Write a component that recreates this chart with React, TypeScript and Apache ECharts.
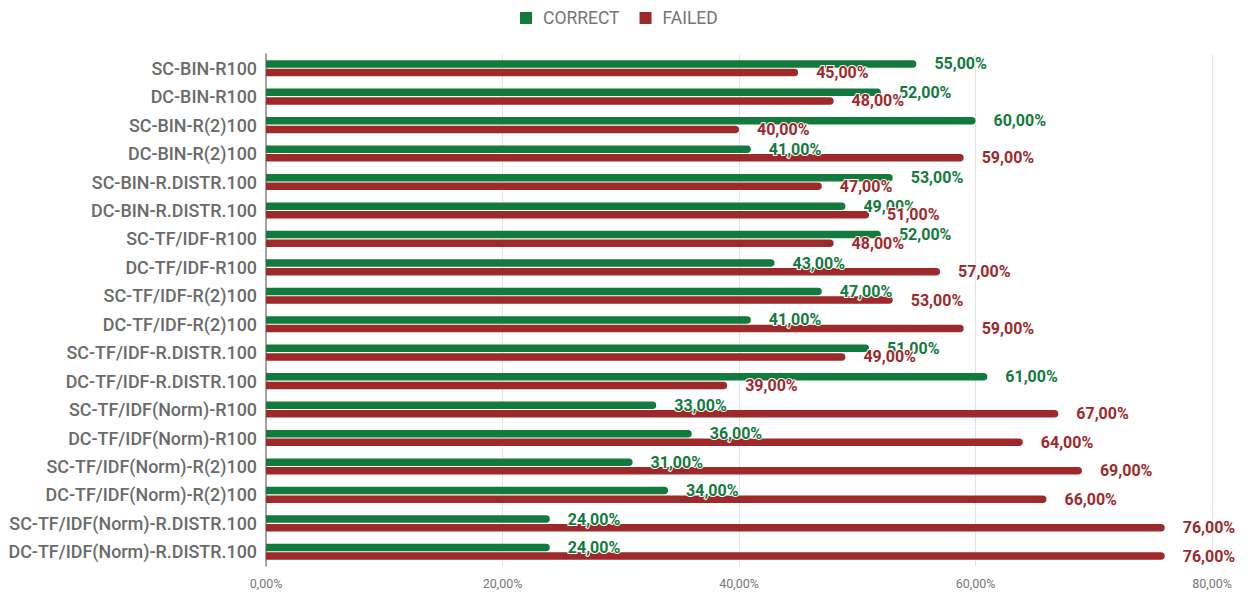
import React, { useEffect, useRef } from "react";
import * as echarts from "echarts";

const categories = [
  "SC-BIN-R100",
  "DC-BIN-R100",
  "SC-BIN-R(2)100",
  "DC-BIN-R(2)100",
  "SC-BIN-R.DISTR.100",
  "DC-BIN-R.DISTR.100",
  "SC-TF/IDF-R100",
  "DC-TF/IDF-R100",
  "SC-TF/IDF-R(2)100",
  "DC-TF/IDF-R(2)100",
  "SC-TF/IDF-R.DISTR.100",
  "DC-TF/IDF-R.DISTR.100",
  "SC-TF/IDF(Norm)-R100",
  "DC-TF/IDF(Norm)-R100",
  "SC-TF/IDF(Norm)-R(2)100",
  "DC-TF/IDF(Norm)-R(2)100",
  "SC-TF/IDF(Norm)-R.DISTR.100",
  "DC-TF/IDF(Norm)-R.DISTR.100",
];

const correct = [55, 52, 60, 41, 53, 49, 52, 43, 47, 41, 51, 61, 33, 36, 31, 34, 24, 24];
const failed = [45, 48, 40, 59, 47, 51, 48, 57, 53, 59, 49, 39, 67, 64, 69, 66, 76, 76];

const GREEN = "#127a3c";
const RED = "#9d292a";

const fmt = (v: number) => v.toFixed(2).replace(".", ",") + "%";

export default function App() {
  const ref = useRef<HTMLDivElement>(null);
  useEffect(() => {
    const chart = echarts.init(ref.current!, undefined, { renderer: "svg" });
    const label = (color: string) => ({
      show: true,
      position: "right",
      distance: 18,
      color,
      fontFamily: "Roboto",
      fontWeight: "bold",
      fontSize: 16,
      textBorderColor: "#fff",
      textBorderWidth: 2,
      formatter: (p: any) => fmt(p.value),
    });
    chart.setOption({
      animation: false,
      textStyle: { fontFamily: "Roboto" },
      legend: {
        top: 4,
        left: 515,
        icon: "rect",
        itemWidth: 12,
        itemHeight: 12,
        itemGap: 20,
        textStyle: { color: "#757575", fontSize: 17.5, fontFamily: "Roboto", padding: [0, 0, 0, 6] },
        data: ["CORRECT", "FAILED"],
      },
      grid: { left: 266, right: 35, top: 54, bottom: 28, containLabel: false },
      xAxis: {
        type: "value",
        min: 0,
        max: 80,
        interval: 20,
        axisLine: { show: false },
        axisTick: { show: false },
        splitLine: { show: true, lineStyle: { color: "#e3e3e3", width: 1 } },
        axisLabel: {
          color: "#777",
          fontSize: 12.5,
          margin: 11,
          formatter: (v: number) => fmt(v),
        },
      },
      yAxis: {
        type: "category",
        inverse: true,
        data: categories,
        axisLine: { show: true, lineStyle: { color: "#888", width: 1.5 } },
        axisTick: { show: false },
        axisLabel: {
          color: "#6a6a6a",
          fontSize: 17.9,
          fontWeight: 500,
          margin: 9,
        },
      },
      series: [
        {
          name: "CORRECT",
          type: "bar",
          data: correct,
          barWidth: 7.5,
          barGap: "15%",
          itemStyle: { color: GREEN, borderRadius: [0, 4, 4, 0] },
          label: label(GREEN),
        },
        {
          name: "FAILED",
          type: "bar",
          data: failed,
          barWidth: 7.5,
          itemStyle: { color: RED, borderRadius: [0, 4, 4, 0] },
          label: label(RED),
        },
      ],
    });
    return () => chart.dispose();
  }, []);
  return (
    <div
      ref={ref}
      style={{ position: "fixed", left: 0, top: 0, width: 1247, height: 594, background: "#fff" }}
    />
  );
}
